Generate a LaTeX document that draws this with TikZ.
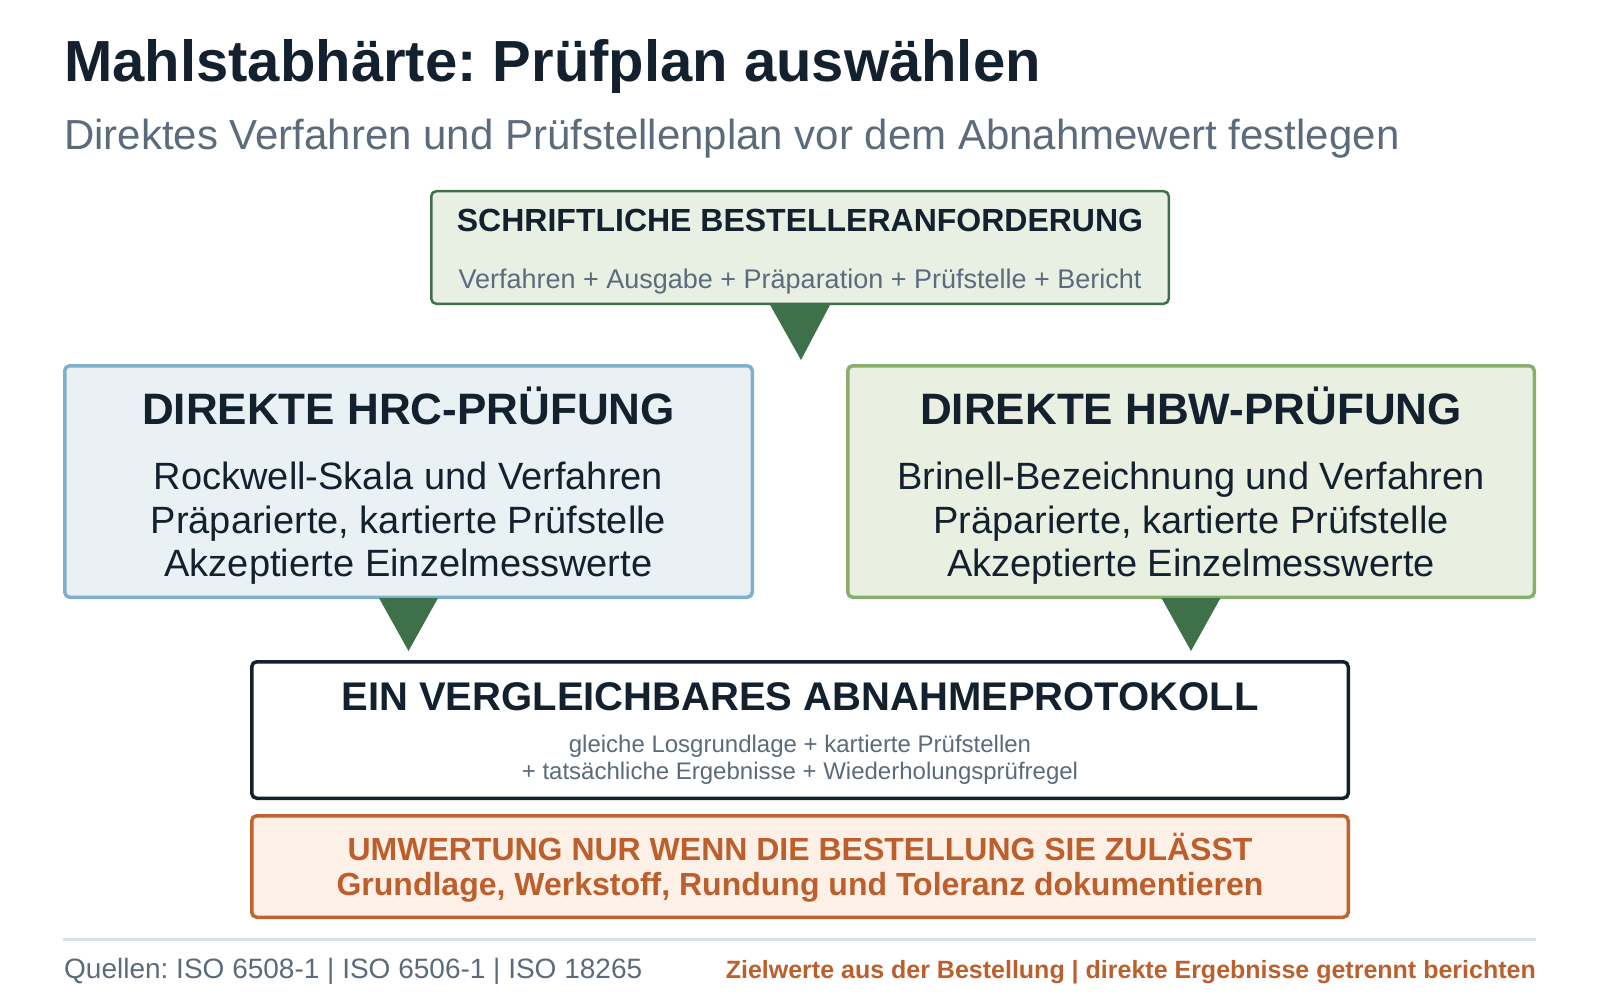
\documentclass[tikz,border=0pt]{standalone}
\usepackage{fontspec}
\setmainfont{Liberation Sans}
\usepackage{xcolor}
\usepackage{tikz}
\usetikzlibrary{positioning}
\frenchspacing

\definecolor{ink}{HTML}{13212E}
\definecolor{slate}{HTML}{5B6B7C}
\definecolor{reqfill}{HTML}{E8EFE3}
\definecolor{reqline}{HTML}{3F6E4B}
\definecolor{tipgreen}{HTML}{3E7049}
\definecolor{hrcfill}{HTML}{E9F1F5}
\definecolor{hrcline}{HTML}{80AFCC}
\definecolor{hbwfill}{HTML}{E9F0E2}
\definecolor{hbwline}{HTML}{88B06C}
\definecolor{warnfill}{HTML}{FDF0E6}
\definecolor{warnline}{HTML}{BF6331}
\definecolor{warntext}{HTML}{BD5F2C}
\definecolor{rulegray}{HTML}{D7E0E6}

\tikzset{
	box/.style={draw, rounded corners=5pt, line width=3.5pt, inner sep=0pt},
	txt/.style={anchor=base, inner sep=0pt, text=ink},
	hd/.style={txt, font=\bfseries\fontsize{44}{48}\selectfont},
	ln/.style={txt, font=\fontsize{38}{42}\selectfont},
	tip/.style={fill=tipgreen}
}

\begin{document}
\begin{tikzpicture}[x=1pt, y=-1pt,
						node distance = 14pt]
		\useasboundingbox (0,0) rectangle (1600,1000);
		\node [txt, anchor=base west, font=\bfseries\fontsize{58}{62}\selectfont]
			(title) at (64,82) {Mahlstabhärte: Prüfplan auswählen};
		\node [txt, anchor=base west, text=slate, font=\fontsize{42}{46}\selectfont]
			(subtitle) at (64,150) {Direktes Verfahren und Prüfstellenplan vor dem Abnahmewert festlegen};

		% Bestelleranforderung
		\node [box, line width=2.5pt, draw=reqline, fill=reqfill,
				minimum width=737.5pt, minimum height=112.5pt] (req) at (800,247.5) {};
		\node [txt, font=\bfseries\fontsize{32}{36}\selectfont]
			(reqhd) at ([yshift=-41.5pt]req.north) {SCHRIFTLICHE BESTELLERANFORDERUNG};
		\node [txt, text=slate, font=\fontsize{27}{30}\selectfont]
			(reqsub) at ([yshift=-98pt]req.north) {Verfahren + Ausgabe + Präparation + Prüfstelle + Bericht};

		% die beiden direkten Verfahren
		\node [box, draw=hrcline, fill=hrcfill,
				minimum width=687.5pt, minimum height=231.5pt] (hrc) at (408.5,481.5) {};
		\node [box, draw=hbwline, fill=hbwfill, right=92pt of hrc,
				minimum width=686.5pt, minimum height=231.5pt] (hbw) {};
		\node [hd] (hrchd) at ([yshift=-60.5pt]hrc.north) {DIREKTE HRC-PRÜFUNG};
		\node [ln] (hrc1) at ([yshift=-125pt]hrc.north) {Rockwell-Skala und Verfahren};
		\node [ln] (hrc2) at ([yshift=-169pt]hrc.north) {Präparierte, kartierte Prüfstelle};
		\node [ln] (hrc3) at ([yshift=-212pt]hrc.north) {Akzeptierte Einzelmesswerte};
		\node [hd] (hbwhd) at ([yshift=-60.5pt]hbw.north) {DIREKTE HBW-PRÜFUNG};
		\node [ln] (hbw1) at ([yshift=-125pt]hbw.north) {Brinell-Bezeichnung und Verfahren};
		\node [ln] (hbw2) at ([yshift=-169pt]hbw.north) {Präparierte, kartierte Prüfstelle};
		\node [ln] (hbw3) at ([yshift=-212pt]hbw.north) {Akzeptierte Einzelmesswerte};

		% Abnahmeprotokoll
		\node [box, draw=ink, fill=white,
				minimum width=1096.5pt, minimum height=136.5pt] (proto) at (800,730) {};
		\node [txt, font=\bfseries\fontsize{40}{44}\selectfont]
			(protohd) at ([yshift=-50pt]proto.north) {EIN VERGLEICHBARES ABNAHMEPROTOKOLL};
		\node [txt, text=slate, font=\fontsize{24}{26}\selectfont]
			(proto1) at ([yshift=-92.5pt]proto.north) {gleiche Losgrundlage + kartierte Prüfstellen};
		\node [txt, text=slate, font=\fontsize{24}{26}\selectfont]
			(proto2) at ([yshift=-119pt]proto.north) {+ tatsächliche Ergebnisse + Wiederholungsprüfregel};

		\node [box, draw=warnline, fill=warnfill, below=of proto,
				minimum width=1096.5pt, minimum height=101.5pt] (conv) {};
		\node [txt, text=warntext, font=\bfseries\fontsize{32}{36}\selectfont]
			(conv1) at ([yshift=-46pt]conv.north) {UMWERTUNG NUR WENN DIE BESTELLUNG SIE ZULÄSST};
		\node [txt, text=warntext, font=\bfseries\fontsize{32}{36}\selectfont]
			(conv2) at ([yshift=-81pt]conv.north) {Grundlage, Werkstoff, Rundung und Toleranz dokumentieren};

		% Pfeilspitzen
		\fill [tip] ([xshift=-31pt,yshift=2pt]req.south) -- ([xshift=31pt,yshift=2pt]req.south)
			-- ([xshift=1pt,yshift=-55pt]req.south) -- cycle;
		\fill [tip] ([xshift=-29.5pt,yshift=1pt]hrc.south) -- ([xshift=29.5pt,yshift=1pt]hrc.south)
			-- ([yshift=-52pt]hrc.south) -- cycle;
		\fill [tip] ([xshift=-29.5pt,yshift=1pt]hbw.south) -- ([xshift=29.5pt,yshift=1pt]hbw.south)
			-- ([yshift=-52pt]hbw.south) -- cycle;

		% Fusszeile
		\draw [rulegray, line width=3pt] (63,939) -- (1536,939);
		\node [txt, anchor=base west, text=slate, font=\fontsize{28}{31}\selectfont]
			(src) at (64,978) {Quellen: ISO 6508-1 | ISO 6506-1 | ISO 18265};
		\node [txt, anchor=base east, text=warntext, font=\bfseries\fontsize{25}{28}\selectfont]
			(note) at (1536,978) {Zielwerte aus der Bestellung | direkte Ergebnisse getrennt berichten};
	\end{tikzpicture}
\end{document}
